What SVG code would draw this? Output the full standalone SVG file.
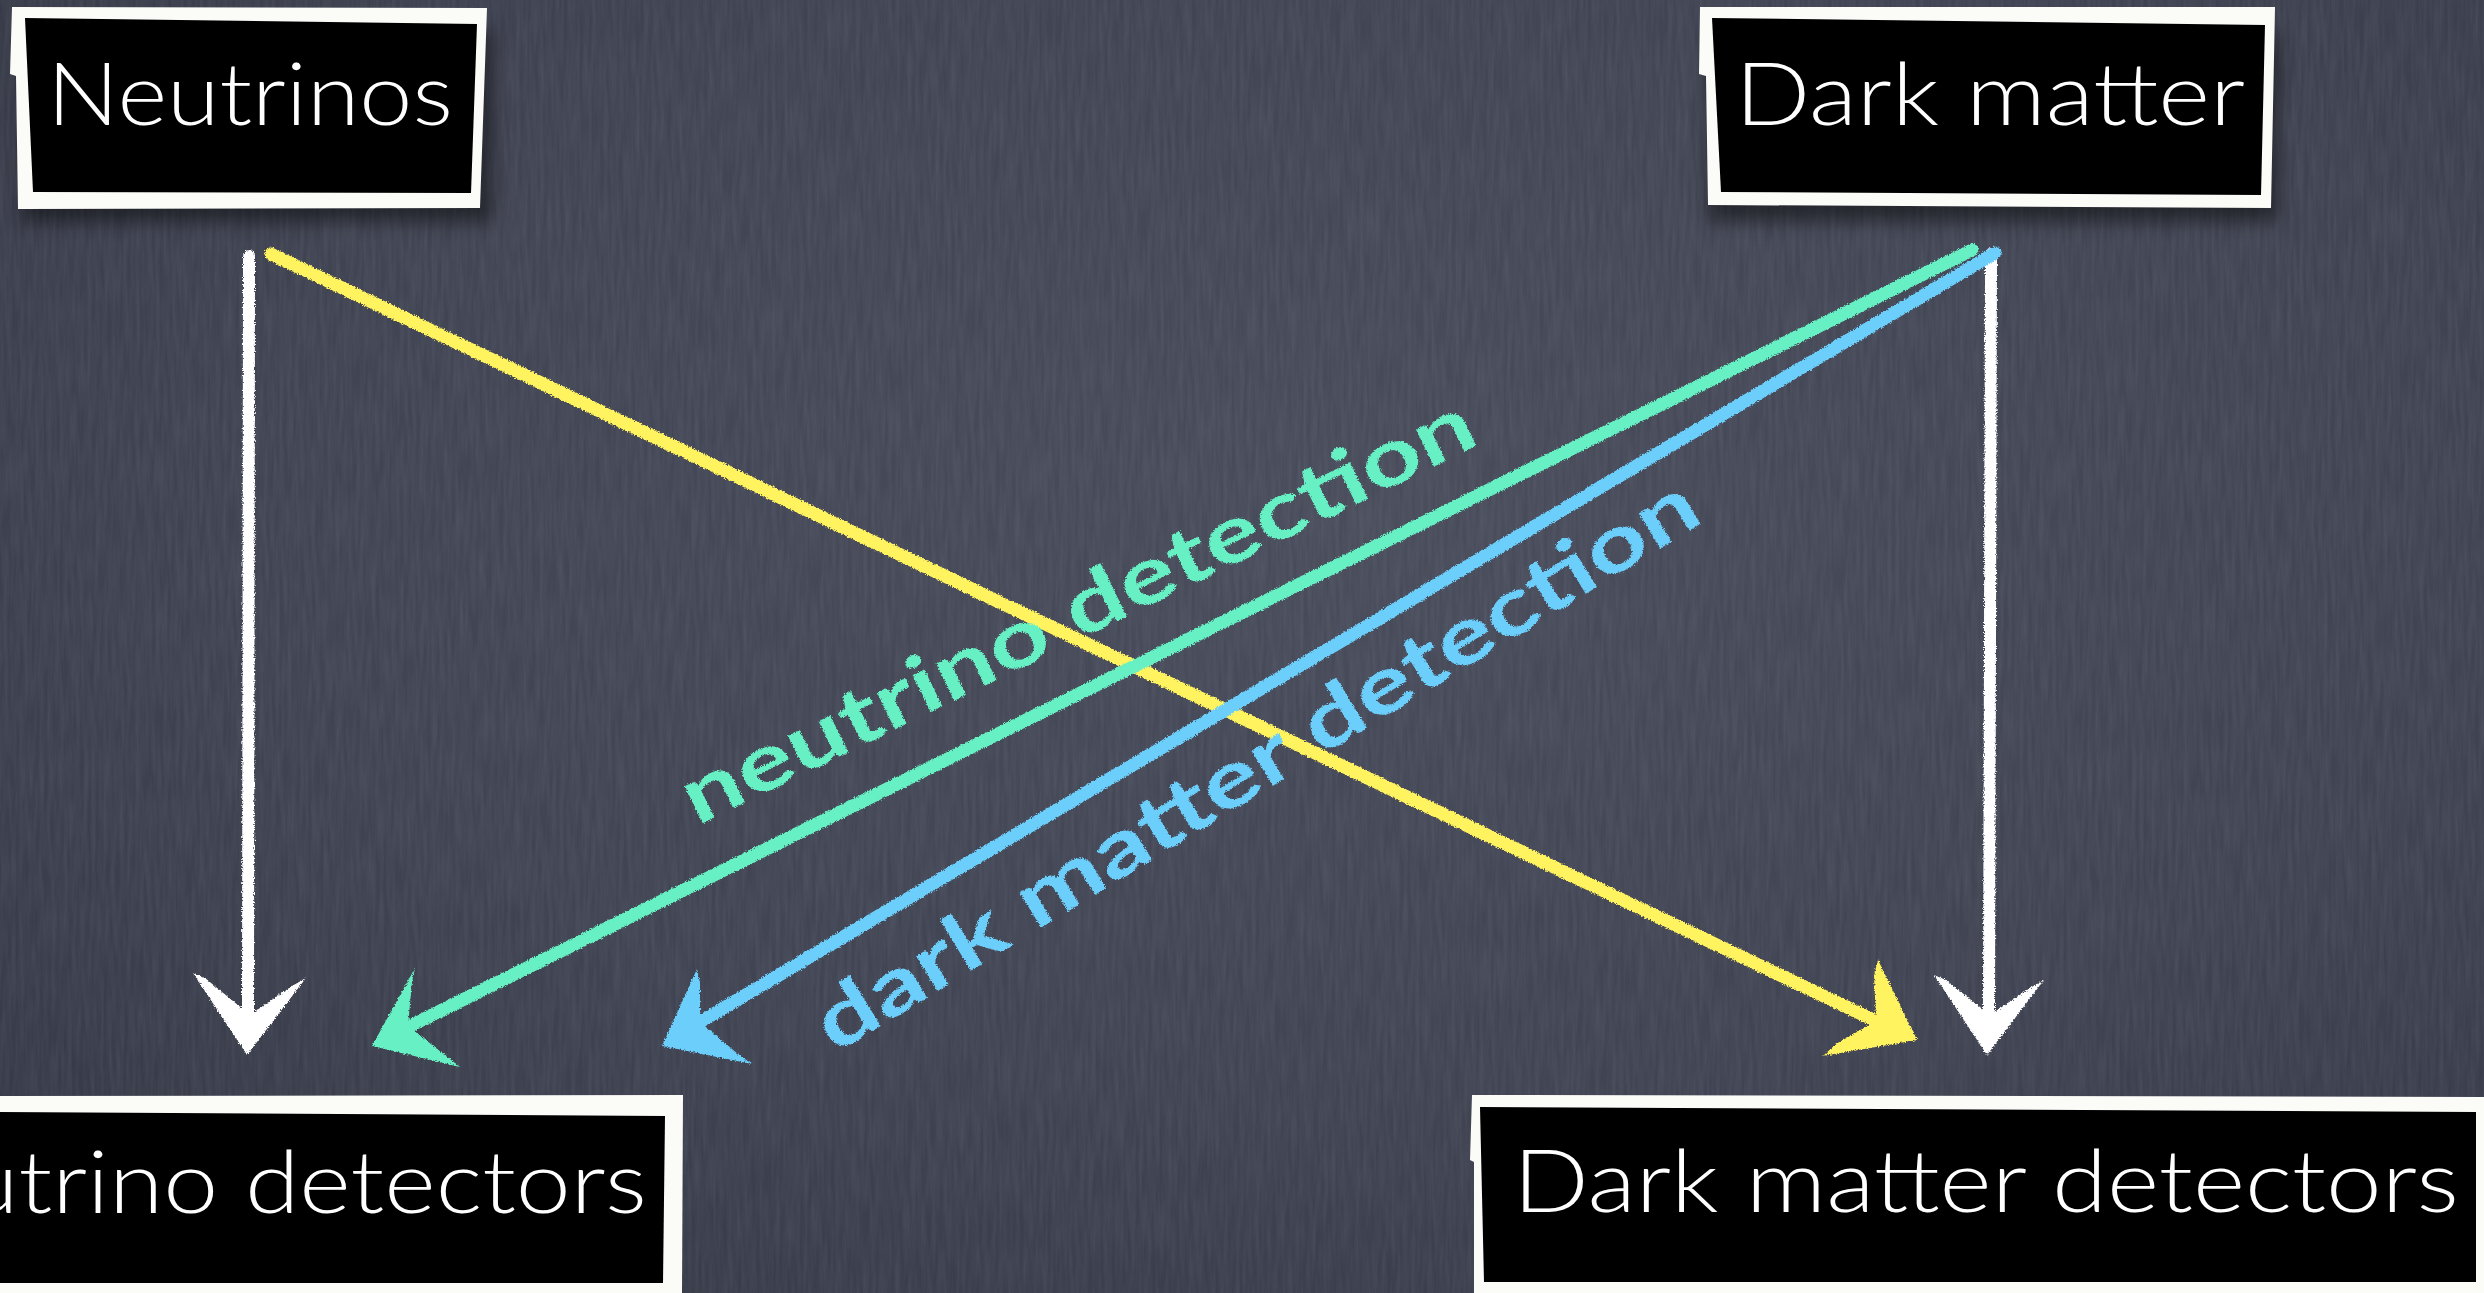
<svg xmlns="http://www.w3.org/2000/svg" width="2484" height="1293" viewBox="0 0 2484 1293">
<defs>
<style>
.frame{fill:#fbfbf8}
.plate{fill:#000}
.title{font-family:Lato,"Open Sans","Liberation Sans",sans-serif;font-weight:300;font-size:86px;fill:#fff}
.lbl{font-family:Lato,"Open Sans","Liberation Sans",sans-serif;font-weight:700;font-size:80px}
.chalk{fill:none;stroke-linecap:round;stroke-linejoin:round}
.w{stroke:#ffffff}
.y{stroke:#fff35e}
.g{stroke:#66f0c3}
.b{stroke:#6ccffb}
</style>
<radialGradient id="bg" cx="0.55" cy="0.4" r="0.75">
<stop offset="0" stop-color="#494c5b"/>
<stop offset="0.6" stop-color="#404351"/>
<stop offset="1" stop-color="#353845"/>
</radialGradient>
<filter id="grain" x="0" y="0" width="1" height="1">
<feTurbulence type="fractalNoise" baseFrequency="0.25 0.02" numOctaves="3" seed="4" result="n"/>
<feColorMatrix in="n" type="matrix" values="0 0 0 0 0.7  0 0 0 0 0.72  0 0 0 0 0.85  0 0 0 0.12 -0.03"/>
</filter>
<filter id="rough" x="-5%" y="-5%" width="110%" height="110%">
<feTurbulence type="fractalNoise" baseFrequency="0.7" numOctaves="2" seed="2" result="n"/>
<feDisplacementMap in="SourceGraphic" in2="n" scale="4" xChannelSelector="R" yChannelSelector="G"/>
</filter>
<filter id="shadow" x="-10%" y="-30%" width="120%" height="160%">
<feGaussianBlur stdDeviation="9"/>
</filter>
</defs>

<rect width="2484" height="1293" fill="url(#bg)"/>
<rect width="2484" height="1293" filter="url(#grain)"/>

<g id="node-neutrinos">
<rect x="22" y="30" width="470" height="192" fill="#000" opacity="0.45" filter="url(#shadow)"/>
<polygon class="frame" points="12,7 487,8 480,208 18,209 16,76 10,74"/>
<polygon class="plate" points="25,18 477,24 471,193 33,192"/>
<text class="title" x="47" y="125" textLength="406" lengthAdjust="spacingAndGlyphs">Neutrinos</text>
</g>

<g id="node-darkmatter">
<rect x="1708" y="30" width="570" height="192" fill="#000" opacity="0.45" filter="url(#shadow)"/>
<polygon class="frame" points="1700,7 2275,7 2271,208 1708,205 1706,76 1699,74"/>
<polygon class="plate" points="1712,18 2265,25 2261,195 1721,192"/>
<text class="title" x="1735" y="125" textLength="510" lengthAdjust="spacingAndGlyphs">Dark matter</text>
</g>

<g id="node-neutrino-detectors">
<polygon class="frame" points="0,1096 683,1095 682,1293 0,1293"/>
<polygon class="plate" points="0,1112 665,1116 663,1283 0,1283"/>
<text class="title" x="-160" y="1213" textLength="807" lengthAdjust="spacingAndGlyphs">Neutrino detectors</text>
</g>

<g id="node-darkmatter-detectors">
<polygon class="frame" points="1472,1095 2484,1097 2484,1293 1474,1293 1474,1162 1470,1160"/>
<polygon class="plate" points="1480,1107 2476,1112 2476,1282 1484,1282"/>
<text class="title" x="1513" y="1212" textLength="946" lengthAdjust="spacingAndGlyphs">Dark matter detectors</text>
</g>

<g id="connectors" filter="url(#rough)">
<path class="chalk w" d="M249,256 L248,1012" stroke-width="12"/>
<polygon fill="#fff" points="193,973 247,1055 306,978 292,986 250,1015 205,978"/>
<path class="chalk y" d="M271,254 L1876,1021" stroke-width="13"/>
<polygon fill="#fff35e" points="1878,960 1917,1040 1823,1056 1836,1044 1876,1021 1874,975"/>
<path class="chalk w" d="M1991,254 L1989,1012" stroke-width="12"/>
<polygon fill="#fff" points="1934,975 1987,1055 2044,980 2030,988 1990,1015 1946,980"/>
<path class="chalk g" d="M1972,250 L410,1026" stroke-width="13"/>
<polygon fill="#66f0c3" points="415,968 372,1046 460,1067 446,1056 408,1026 412,982"/>
<path class="chalk b" d="M1995,253 L700,1022" stroke-width="13"/>
<polygon fill="#6ccffb" points="697,969 662,1046 752,1064 738,1054 700,1022 700,983"/>
<text class="lbl" fill="#66f0c3" transform="translate(697,826) rotate(-26)" textLength="873" lengthAdjust="spacingAndGlyphs">neutrino detection</text>
<text class="lbl" fill="#6ccffb" transform="translate(835,1054) rotate(-31.5)" textLength="1021" lengthAdjust="spacingAndGlyphs">dark matter detection</text>
</g>
</svg>
